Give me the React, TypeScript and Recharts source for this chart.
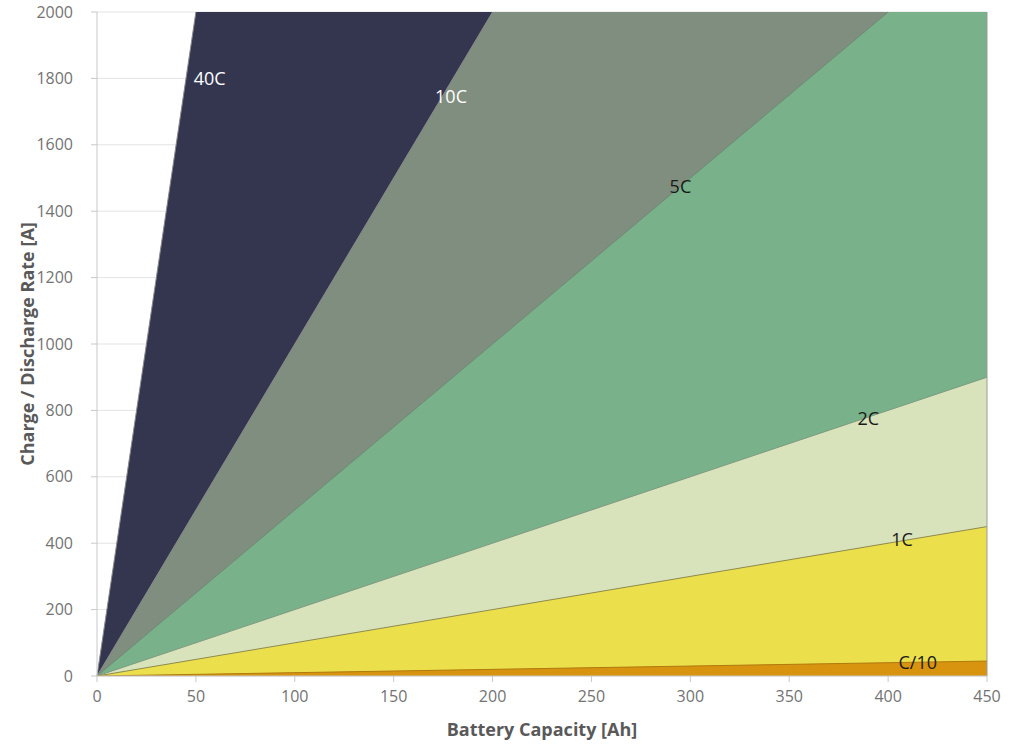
import { AreaChart, Area, XAxis, YAxis, CartesianGrid, ReferenceDot, ReferenceLine } from 'recharts';

// battery capacity [Ah] at the two ends of the chart
const capacity = [0, 450];
// charge / discharge rate [A] at those capacities, one list per C-rate
const rateC10 = [0, 45];
const rate1C = [0, 450];
const rate2C = [0, 900];
const rate5C = [0, 2250];
const rate10C = [0, 4500];
const rate40C = [0, 18000];

const xTicks = [0, 50, 100, 150, 200, 250, 300, 350, 400, 450];
const yTicks = [0, 200, 400, 600, 800, 1000, 1200, 1400, 1600, 1800, 2000];

// where each rate name sits on the chart
const labelNames = ['40C', '10C', '5C', '2C', '1C', 'C/10'];
const labelX = [57, 179, 295, 390, 407, 415];
const labelY = [1800, 1745, 1475, 775, 410, 40];
const labelColor = ['#ffffff', '#ffffff', '#1a1a1a', '#1a1a1a', '#1a1a1a', '#1a1a1a'];

const data = capacity.map((c, i) => ({
  capacity: c,
  c10: rateC10[i],
  c1: rate1C[i],
  c2: rate2C[i],
  c5: rate5C[i],
  c10x: rate10C[i],
  c40: rate40C[i],
}));

const font = '"Open Sans", sans-serif';
const tick = { fill: '#737373', fontSize: 16, fontFamily: font };

export default function App() {
  return (
    <div style={{ position: 'absolute', left: 0, top: 0 }}>
      <AreaChart width={1012} height={751} data={data} margin={{ top: 12, right: 25, bottom: 0, left: 0 }}>
        <CartesianGrid vertical={false} stroke="#e3e3e3" />
        <XAxis
          dataKey="capacity"
          type="number"
          domain={[0, 450]}
          ticks={xTicks}
          stroke="#c8c8c8"
          tick={tick}
          tickSize={6}
          tickMargin={9}
          height={75}
          label={{ value: 'Battery Capacity [Ah]', position: 'insideBottom', offset: 15, fill: '#595959', fontSize: 18, fontWeight: 700, fontFamily: font }}
        />
        <YAxis
          type="number"
          domain={[0, 2000]}
          allowDataOverflow
          ticks={yTicks}
          stroke="#c8c8c8"
          tick={tick}
          tickSize={6}
          tickMargin={18}
          width={97}
          label={{ value: 'Charge / Discharge Rate [A]', angle: -90, position: 'insideLeft', offset: 28, style: { textAnchor: 'middle' }, fill: '#595959', fontSize: 18, fontWeight: 700, fontFamily: font }}
        />
        <Area type="linear" dataKey="c40" stroke="#8a8a8a" strokeWidth={1} fill="#343650" fillOpacity={1} isAnimationActive={false} />
        <Area type="linear" dataKey="c10x" stroke="#8a8a8a" strokeWidth={1} fill="#7f8e7f" fillOpacity={1} isAnimationActive={false} />
        <Area type="linear" dataKey="c5" stroke="#6f8a74" strokeWidth={1} fill="#78b18a" fillOpacity={1} isAnimationActive={false} />
        <Area type="linear" dataKey="c2" stroke="#7e9a80" strokeWidth={1} fill="#d9e3bb" fillOpacity={1} isAnimationActive={false} />
        <Area type="linear" dataKey="c1" stroke="#8d8a50" strokeWidth={1} fill="#ebe04c" fillOpacity={1} isAnimationActive={false} />
        <Area type="linear" dataKey="c10" stroke="#b07a10" strokeWidth={1} fill="#d8930f" fillOpacity={1} isAnimationActive={false} />
        <ReferenceLine x={450} stroke="#9a9a9a" />
        {labelNames.map((name, i) => (
          <ReferenceDot
            key={name}
            x={labelX[i]}
            y={labelY[i]}
            r={0}
            fill="none"
            stroke="none"
            label={{ value: name, position: 'center', fill: labelColor[i], fontSize: 18, fontFamily: font }}
          />
        ))}
      </AreaChart>
    </div>
  );
}
